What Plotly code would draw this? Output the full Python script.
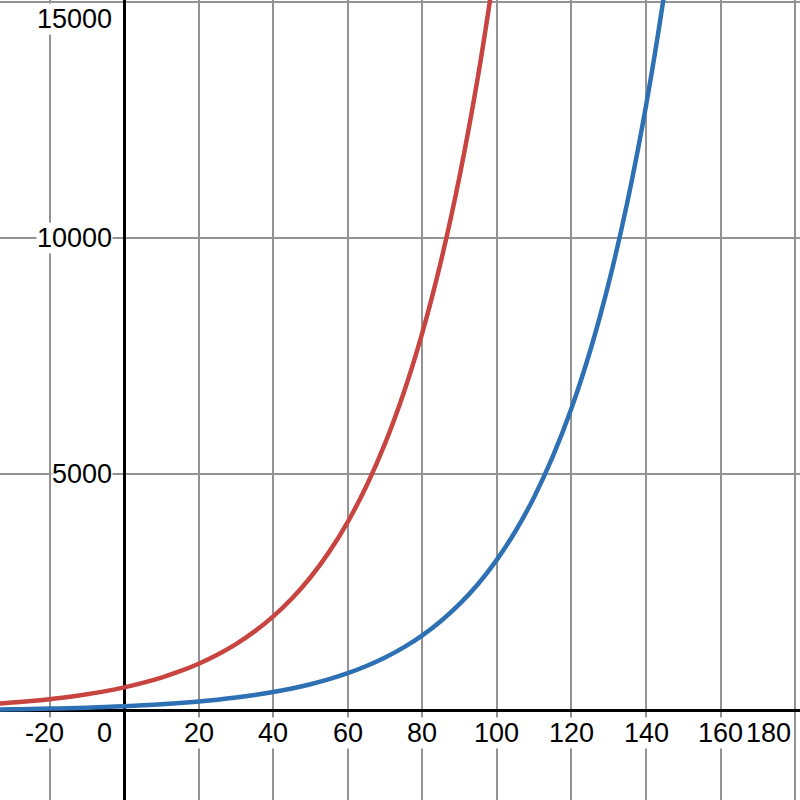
import plotly.graph_objects as go

# Red curve samples
red_x = [-35, -30, -25, -20, -15, -10, -5, 0, 5, 10, 15, 20, 25, 30, 35, 40, 45, 50,
         55, 60, 65, 70, 75, 80, 85, 90, 95, 100]
red_y = [149, 177, 210, 250, 297, 354, 420, 500, 595, 707, 841, 1000, 1189, 1414, 1682,
         2000, 2378, 2828, 3364, 4000, 4757, 5657, 6727, 8000, 9514, 11314, 13454, 16000]

# Blue curve samples
blue_x = [-35, -30, -25, -20, -15, -10, -5, 0, 5, 10, 15, 20, 25, 30, 35, 40, 45, 50,
          55, 60, 65, 70, 75, 80, 85, 90, 95, 100, 105, 110, 115, 120, 125, 130, 135,
          140, 145, 150]
blue_y = [30, 35, 42, 50, 59, 71, 84, 100, 119, 141, 168, 200, 238, 283, 336, 400, 476,
          566, 673, 800, 951, 1131, 1345, 1600, 1903, 2263, 2691, 3200, 3805, 4525, 5382,
          6400, 7611, 9051, 10764, 12800, 15222, 18102]

x_ticks = [-20, 20, 40, 60, 80, 100, 120, 140, 160, 180]
x_tick_labels = ["-20", "20", "40", "60", "80", "100", "120", "140", "160", "180"]
y_ticks = [5000, 10000, 15000]
y_tick_labels = ["5000", "10000", "15000"]

RED = "#c74440"
BLUE = "#2d70b3"
FONT = dict(family="Liberation Sans, Arial, sans-serif", size=27, color="black")

fig = go.Figure()
fig.add_trace(go.Scatter(x=red_x, y=red_y, mode="lines",
                         line=dict(color=RED, width=4.5, shape="spline"),
                         hoverinfo="skip", showlegend=False))
fig.add_trace(go.Scatter(x=blue_x, y=blue_y, mode="lines",
                         line=dict(color=BLUE, width=4.5, shape="spline"),
                         hoverinfo="skip", showlegend=False))

annotations = []
for v, t in zip(x_ticks, x_tick_labels):
    a = dict(x=v, y=0, xref="x", yref="y", text=t, showarrow=False, font=FONT,
             xanchor="center", yanchor="middle", yshift=-22, bgcolor="white", borderpad=0)
    if v == 180:
        a.update(xshift=-27)
    if v < 0:
        a.update(xshift=-5)
    annotations.append(a)
annotations.append(dict(x=0, y=0, xref="x", yref="y", text="0", showarrow=False, font=FONT,
                        xanchor="right", yanchor="middle", xshift=-11, yshift=-22,
                        bgcolor="white", borderpad=0))
for v, t in zip(y_ticks, y_tick_labels):
    a = dict(x=0, y=v, xref="x", yref="y", text=t, showarrow=False, font=FONT,
             xanchor="right", yanchor="middle", xshift=-11, bgcolor="white", borderpad=0)
    if v == 15000:
        a.update(yshift=-17)
    annotations.append(a)

fig.update_layout(
    width=800, height=800,
    margin=dict(l=0, r=0, t=0, b=0),
    plot_bgcolor="white", paper_bgcolor="white",
    annotations=annotations,
    xaxis=dict(range=[-33.3, 181.3], dtick=20, tick0=0, showgrid=True,
               gridcolor="#939393", gridwidth=1.8, zeroline=True, zerolinecolor="black",
               zerolinewidth=2.5, showticklabels=False, ticks="", fixedrange=True),
    yaxis=dict(range=[-1882, 15032], dtick=5000, tick0=0, showgrid=True,
               gridcolor="#939393", gridwidth=1.8, zeroline=True, zerolinecolor="black",
               zerolinewidth=2.5, showticklabels=False, ticks="", fixedrange=True),
)

fig.write_html("out.html", config={"displayModeBar": False},
               post_script="document.body.style.margin='0px';document.body.style.overflow='hidden';")
